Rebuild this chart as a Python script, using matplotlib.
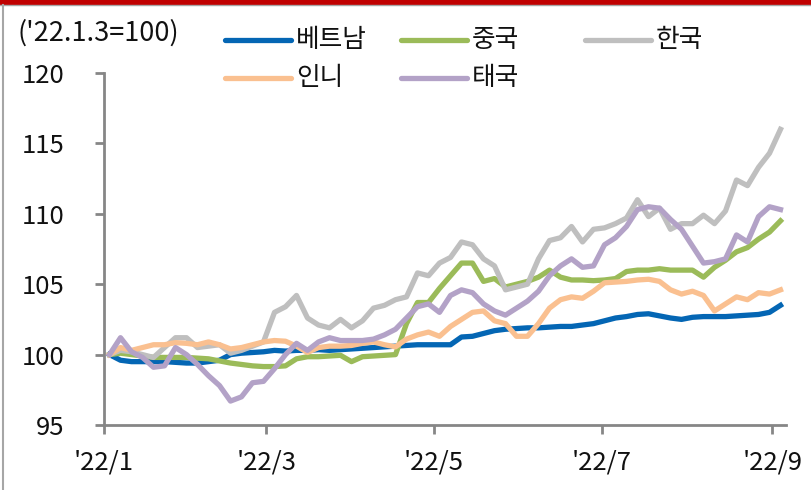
import matplotlib
matplotlib.use("Agg")
import matplotlib.pyplot as plt
import pandas as pd
from matplotlib.lines import Line2D
from matplotlib.patches import Rectangle

plt.rcParams["font.family"] = ["Noto Sans CJK KR", "DejaVu Sans"]
plt.rcParams["font.weight"] = "light"

# 4-day sampling from 2022-01-03
dates = pd.date_range("2022-01-03", periods=62, freq="4D")

vietnam = [100.0, 99.6, 99.5, 99.5, 99.5, 99.5, 99.45, 99.4, 99.4, 99.5,
           99.6, 100.0, 100.1, 100.15, 100.2, 100.3, 100.25, 100.3, 100.3, 100.35,
           100.3, 100.35, 100.4, 100.45, 100.5, 100.55, 100.6, 100.65, 100.7, 100.7,
           100.7, 100.7, 101.25, 101.3, 101.5, 101.7, 101.8, 101.85, 101.9, 101.9,
           101.95, 102.0, 102.0, 102.1, 102.2, 102.4, 102.6, 102.7, 102.85, 102.9,
           102.75, 102.6, 102.5, 102.65, 102.7, 102.7, 102.7, 102.75, 102.8, 102.85,
           103.0, 103.5]
china = [100.0, 100.1, 100.0, 99.9, 99.8, 99.8, 99.8, 99.8, 99.75, 99.7,
         99.55, 99.4, 99.3, 99.2, 99.15, 99.15, 99.2, 99.7, 99.85, 99.85,
         99.9, 99.95, 99.5, 99.85, 99.9, 99.95, 100.0, 102.2, 103.7, 103.7,
         104.7, 105.6, 106.5, 106.5, 105.2, 105.4, 104.8, 105.0, 105.2, 105.5,
         106.0, 105.5, 105.3, 105.3, 105.25, 105.3, 105.4, 105.9, 106.0, 106.0,
         106.1, 106.0, 106.0, 106.0, 105.5, 106.2, 106.7, 107.3, 107.6, 108.2,
         108.7, 109.5]
korea = [100.0, 100.3, 100.2, 100.0, 99.8, 100.5, 101.2, 101.2, 100.5, 100.6,
         100.7, 100.1, 100.3, 100.6, 100.9, 103.0, 103.4, 104.2, 102.6, 102.1,
         101.9, 102.5, 101.9, 102.4, 103.3, 103.5, 103.9, 104.1, 105.8, 105.6,
         106.5, 106.9, 108.0, 107.8, 106.8, 106.3, 104.6, 104.8, 105.0, 106.8,
         108.1, 108.3, 109.1, 108.0, 108.9, 109.0, 109.3, 109.7, 111.0, 109.8,
         110.4, 108.9, 109.3, 109.3, 109.9, 109.3, 110.2, 112.4, 112.0, 113.3,
         114.3, 116.0]
indonesia = [100.0, 100.5, 100.3, 100.5, 100.7, 100.7, 100.85, 100.8, 100.7, 100.9,
             100.7, 100.4, 100.5, 100.7, 100.9, 101.0, 100.95, 100.6, 100.15, 100.5,
             100.6, 100.6, 100.65, 100.8, 100.9, 100.7, 100.55, 101.1, 101.4, 101.6,
             101.3, 102.0, 102.5, 103.0, 103.1, 102.4, 102.2, 101.3, 101.3, 102.2,
             103.3, 103.9, 104.1, 104.0, 104.5, 105.1, 105.15, 105.2, 105.3, 105.35,
             105.2, 104.6, 104.3, 104.5, 104.2, 103.1, 103.6, 104.1, 103.9, 104.4,
             104.3, 104.6]
thailand = [100.0, 101.2, 100.2, 99.8, 99.1, 99.2, 100.5, 100.0, 99.3, 98.5,
            97.8, 96.7, 97.0, 98.0, 98.1, 99.0, 100.0, 100.8, 100.3, 100.9,
            101.2, 101.0, 101.0, 101.0, 101.1, 101.4, 101.8, 102.6, 103.4, 103.6,
            103.0, 104.2, 104.6, 104.4, 103.6, 103.1, 102.8, 103.3, 103.8, 104.5,
            105.6, 106.3, 106.8, 106.2, 106.3, 107.8, 108.3, 109.1, 110.3, 110.5,
            110.4, 109.6, 108.9, 107.7, 106.5, 106.6, 106.8, 108.5, 108.0, 109.8,
            110.5, 110.3]

names = ["베트남", "중국", "한국", "인니", "태국"]
colors = ["#0466B4", "#9BBB59", "#BFBFBF", "#FAC090", "#B3A2C7"]
series = [vietnam, china, korea, indonesia, thailand]

W, H = 811, 490
fig = plt.figure(figsize=(W / 100, H / 100), dpi=100)
ax = fig.add_axes([104 / W, (H - 425) / H, (786 - 104) / W, (425 - 73) / H])

for vals, c in zip(series, colors):
    ax.plot(dates, vals, color=c, lw=3.8, solid_joinstyle="round")

ax.set_ylim(95, 120)
ax.set_yticks([95, 100, 105, 110, 115, 120])
ax.set_xlim(pd.Timestamp("2022-01-01"), pd.Timestamp("2022-09-06"))
xt = pd.to_datetime(["2022-01-01", "2022-03-01", "2022-05-01", "2022-07-01", "2022-09-01"])
ax.set_xticks(xt)
ax.set_xticklabels(["'22/1", "'22/3", "'22/5", "'22/7", "'22/9"])

for s in ["top", "right"]:
    ax.spines[s].set_visible(False)
for s in ["left", "bottom"]:
    ax.spines[s].set_color("#868686")
    ax.spines[s].set_linewidth(2)
ax.tick_params(axis="both", direction="out", length=6.5, width=2, color="#868686",
               labelsize=18.5, labelcolor="#111111")
ax.tick_params(axis="y", pad=22)
ax.tick_params(axis="x", pad=11)

# header
fig.text(17 / W, 1 - 33 / H, "('22.1.3=100)", ha="left", va="center", fontsize=19.5, color="#111111")

# manual legend, row-major
leg_pos = [(225, 40), (401, 40), (585, 40), (225, 78), (401, 78)]
for (x0, y0), name, c in zip(leg_pos, names, colors):
    fig.add_artist(Line2D([x0 / W, (x0 + 66) / W], [1 - y0 / H, 1 - y0 / H],
                          color=c, lw=3.8, solid_capstyle="round"))
    fig.text((x0 + 71) / W, 1 - y0 / H, name, ha="left", va="center",
             fontsize=18.5, color="#111111")

# frame decorations
fig.add_artist(Rectangle((0, 1 - 5 / H), 1, 5 / H, color="#C00000", lw=0))
fig.add_artist(Line2D([0, 1], [1 - 5.5 / H, 1 - 5.5 / H], color="#A6A6A6", lw=1))
fig.add_artist(Line2D([3.5 / W, 3.5 / W], [0, 1 - 5 / H], color="#A6A6A6", lw=1.5))

fig.savefig("out.png", dpi=100)
